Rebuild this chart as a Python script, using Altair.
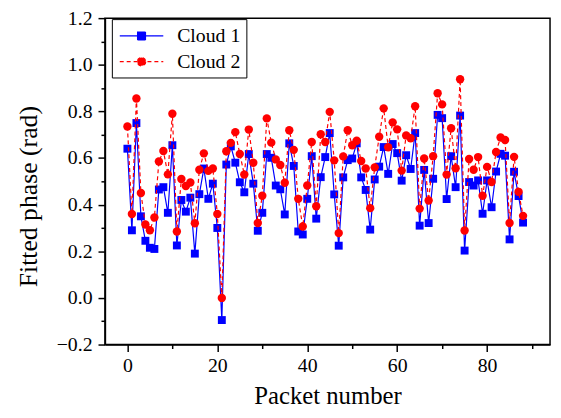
import altair as alt
import pandas as pd

packets = list(range(89))
cloud1 = [0.64, 0.29, 0.75, 0.35, 0.245, 0.215, 0.21, 0.465, 0.475, 0.365,
          0.655, 0.225, 0.42, 0.37, 0.43, 0.19, 0.445, 0.555, 0.425, 0.49,
          0.30, -0.095, 0.572, 0.65, 0.58, 0.496, 0.453, 0.617, 0.49, 0.288,
          0.365, 0.617, 0.601, 0.482, 0.466, 0.358, 0.663, 0.566, 0.285, 0.272,
          0.425, 0.608, 0.34, 0.518, 0.604, 0.707, 0.444, 0.224, 0.517, 0.591,
          0.598, 0.663, 0.517, 0.463, 0.293, 0.508, 0.563, 0.647, 0.532, 0.66,
          0.621, 0.503, 0.612, 0.553, 0.707, 0.31, 0.549, 0.321, 0.511, 0.785,
          0.771, 0.424, 0.608, 0.475, 0.782, 0.203, 0.497, 0.482, 0.504, 0.361,
          0.504, 0.389, 0.542, 0.618, 0.61, 0.251, 0.541, 0.437, 0.323]
cloud2 = [0.735, 0.36, 0.855, 0.45, 0.315, 0.29, 0.345, 0.585, 0.63, 0.53,
          0.79, 0.285, 0.51, 0.48, 0.495, 0.32, 0.55, 0.62, 0.545, 0.555,
          0.36, 0.0, 0.629, 0.665, 0.711, 0.617, 0.529, 0.722, 0.58, 0.321,
          0.438, 0.77, 0.666, 0.594, 0.57, 0.494, 0.719, 0.635, 0.425, 0.306,
          0.482, 0.669, 0.393, 0.702, 0.669, 0.798, 0.59, 0.278, 0.607, 0.719,
          0.655, 0.674, 0.587, 0.555, 0.385, 0.56, 0.691, 0.813, 0.646, 0.753,
          0.723, 0.546, 0.697, 0.685, 0.822, 0.383, 0.598, 0.418, 0.608, 0.878,
          0.83, 0.529, 0.728, 0.556, 0.938, 0.289, 0.596, 0.55, 0.604, 0.438,
          0.562, 0.497, 0.626, 0.688, 0.677, 0.321, 0.605, 0.455, 0.352]
series_names = ["Cloud 1", "Cloud 2"]
x_major = [0, 20, 40, 60, 80]
x_minor = [10, 30, 50, 70, 90]
y_major = [-0.2, 0.0, 0.2, 0.4, 0.6, 0.8, 1.0, 1.2]
y_minor = [-0.1, 0.1, 0.3, 0.5, 0.7, 0.9, 1.1]

df = pd.DataFrame({"packet": packets, "cloud1": cloud1, "cloud2": cloud2})
long_df = pd.DataFrame({
    "packet": packets + packets,
    "value": cloud1 + cloud2,
    "series": [series_names[0]] * len(packets) + [series_names[1]] * len(packets),
})

FONT = "Liberation Serif"
BLUE = "#0000ff"
RED = "#ff0000"
xs = alt.Scale(domain=[-5, 94], nice=False, zero=False)
ys = alt.Scale(domain=[-0.2, 1.2], nice=False, zero=False)

x_major_axis = alt.Axis(values=x_major, tickSize=7, labelFontSize=20, labelFont=FONT,
                        labelPadding=4, title="Packet number", titleFont=FONT,
                        titleFontSize=25, titleFontWeight="normal", titleY=60,
                        titleBaseline="alphabetic", orient="bottom")
y_major_axis = alt.Axis(values=y_major, format=".1f", tickSize=7, labelFontSize=20,
                        labelFont=FONT, labelPadding=6, title="Fitted phase (rad)",
                        titleFont=FONT, titleFontSize=26, titleFontWeight="normal",
                        titleX=-69, titleY=180, titleBaseline="alphabetic",
                        titleAngle=270, orient="left")
x_minor_axis = alt.Axis(values=x_minor, tickSize=4, labels=False, title=None,
                        domain=False, orient="bottom")
y_minor_axis = alt.Axis(values=y_minor, tickSize=4, labels=False, title=None,
                        domain=False, orient="left")

base = alt.Chart(df)

line1 = base.mark_line(color=BLUE, strokeWidth=1.2).encode(
    x=alt.X("packet:Q", scale=xs, axis=x_major_axis),
    y=alt.Y("cloud1:Q", scale=ys, axis=y_major_axis),
)
pts1 = base.mark_point(shape="square", filled=True, size=64, color=BLUE, opacity=1).encode(
    x=alt.X("packet:Q", scale=xs, axis=x_minor_axis),
    y=alt.Y("cloud1:Q", scale=ys, axis=y_minor_axis),
)
line2 = base.mark_line(color=RED, strokeWidth=1.2, strokeDash=[4, 3]).encode(
    x=alt.X("packet:Q", scale=xs, axis=None),
    y=alt.Y("cloud2:Q", scale=ys, axis=None),
)
pts2 = base.mark_point(shape="circle", filled=True, size=72, color=RED, opacity=1).encode(
    x=alt.X("packet:Q", scale=xs, axis=None),
    y=alt.Y("cloud2:Q", scale=ys, axis=None),
)

sq_path = "M-0.9,0H3.5M0.9,-0.4H1.7V0.4H0.9Z"
ci_path = "M-0.9,0H3.5M1.725,0A0.425,0.425,0,1,1,0.875,0A0.425,0.425,0,1,1,1.725,0Z"
legend = alt.Legend(title=None, orient="none", legendX=7, legendY=1,
                    fillColor="white", strokeColor="black", padding=6,
                    symbolSize=400, symbolStrokeWidth=1.2, labelFont=FONT,
                    labelFontSize=20, labelOffset=38, rowPadding=5,
                    labelColor="black")
legend_layer = alt.Chart(long_df).mark_point(filled=True, opacity=1).encode(
    x=alt.X("packet:Q", scale=xs, axis=None),
    y=alt.Y("value:Q", scale=ys, axis=None),
    shape=alt.Shape("series:N", scale=alt.Scale(domain=series_names, range=[sq_path, ci_path]), legend=legend),
    fill=alt.Fill("series:N", scale=alt.Scale(domain=series_names, range=[BLUE, RED]), legend=legend),
    stroke=alt.Stroke("series:N", scale=alt.Scale(domain=series_names, range=[BLUE, RED]), legend=legend),
    strokeDash=alt.StrokeDash("series:N", scale=alt.Scale(domain=series_names, range=[[1, 0], [4, 3]]), legend=legend),
).transform_filter("false")

chart = alt.layer(line1, pts1, line2, pts2, legend_layer).resolve_axis(
    x="independent", y="independent"
).properties(
    width=450, height=330,
    autosize=alt.AutoSizeParams(type="none"),
    padding={"left": 98, "top": 8, "right": 3, "bottom": 70},
).configure_view(
    stroke="black", strokeWidth=1.5
).configure_axis(
    domainColor="black", domainWidth=1.5, tickColor="black", tickWidth=1.5,
    grid=False, labelColor="black", titleColor="black",
    labelFont=FONT, titleFont=FONT
).configure_text(font=FONT).configure_legend(labelFont=FONT)

chart.save("out.html", embed_options={"renderer": "svg", "actions": False})
